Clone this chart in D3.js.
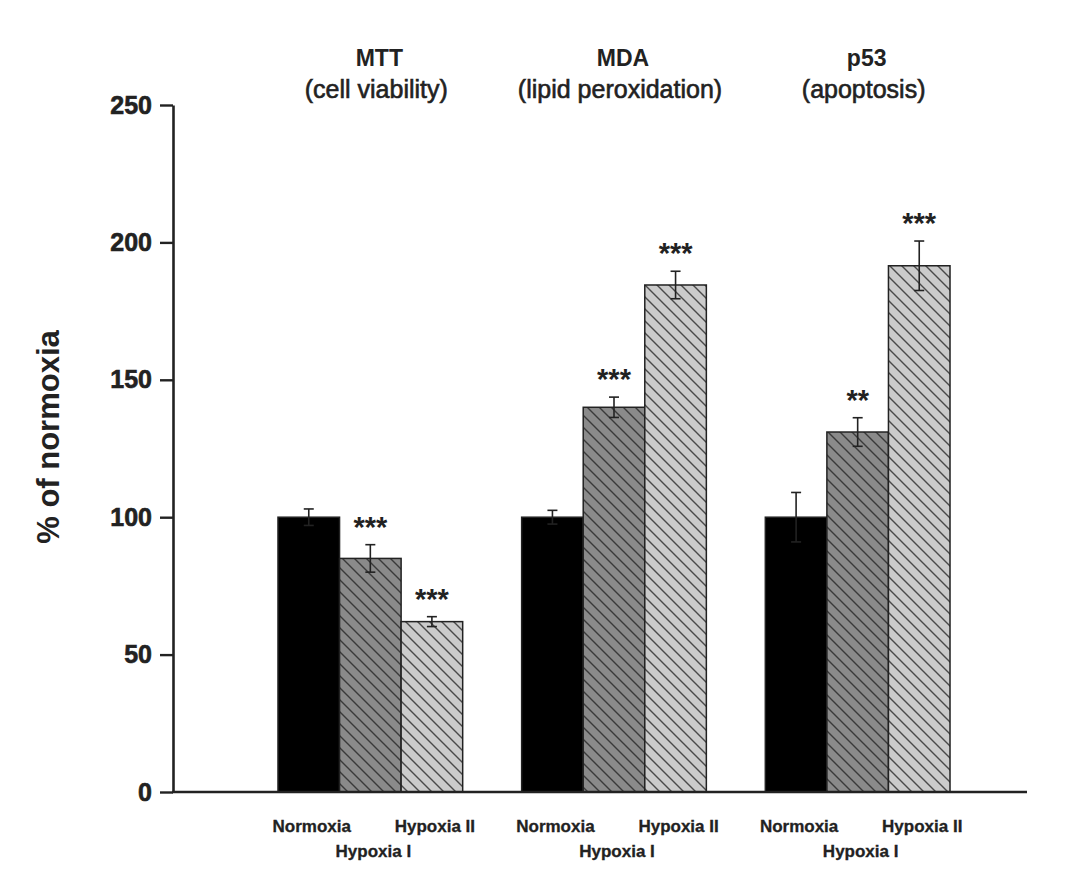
<!DOCTYPE html>
<html>
<head>
<meta charset="utf-8">
<script src="https://cdn.jsdelivr.net/npm/d3@7"></script>
<style>
  html, body { margin: 0; padding: 0; background: #fff; }
  svg { display: block; font-family: "Liberation Sans", Arial, sans-serif; }
</style>
</head>
<body>
<svg id="chart" width="1080" height="875"></svg>
<script>
// Assays (groups) and their subtitles
const groups = ["MTT", "MDA", "p53"];
const groupSubtitles = ["(cell viability)", "(lipid peroxidation)", "(apoptosis)"];
// Conditions within each group
const conditions = ["Normoxia", "Hypoxia I", "Hypoxia II"];
// Mean values (% of normoxia) and error (SEM) per assay
const mttValues = [100, 85, 62];
const mttErrors = [3, 5, 1.8];
const mdaValues = [100, 140, 184.5];
const mdaErrors = [2.5, 3.7, 5];
const p53Values = [100, 131, 191.5];
const p53Errors = [9, 5.2, 9];
// Significance markers
const mttStars = ["", "***", "***"];
const mdaStars = ["", "***", "***"];
const p53Stars = ["", "**", "***"];
// Y axis ticks
const yTicks = [0, 50, 100, 150, 200, 250];

const seriesValues = [mttValues, mdaValues, p53Values];
const seriesErrors = [mttErrors, mdaErrors, p53Errors];
const seriesStars = [mttStars, mdaStars, p53Stars];

const data = [];
groups.forEach((g, gi) => {
  conditions.forEach((c, ci) => {
    data.push({ group: g, cond: c, ci, value: seriesValues[gi][ci], err: seriesErrors[gi][ci], stars: seriesStars[gi][ci] });
  });
});

const svg = d3.select("#chart");

const y = d3.scaleLinear().domain([0, 250]).range([792, 105]);
const x0 = d3.scaleBand().domain(groups).range([248.5, 979.5]).paddingInner(0.242).paddingOuter(0.121);
const x1 = d3.scaleBand().domain(conditions).range([0, x0.bandwidth()]).padding(0);

const axisX = 173;
const axisRight = 1027;

// Hatch patterns for the hypoxia bars
const defs = svg.append("defs");
function hatch(id, bg, line) {
  const p = defs.append("pattern").attr("id", id).attr("patternUnits", "userSpaceOnUse")
    .attr("width", 12).attr("height", 12);
  p.append("rect").attr("width", 12).attr("height", 12).attr("fill", bg);
  p.append("path").attr("d", "M0,0 L12,12 M-6,6 L6,18 M6,-6 L18,6")
    .attr("stroke", line).attr("stroke-width", 1.4).attr("fill", "none");
}
hatch("hatchA", "#8a8a8a", "#3a3a3a");
hatch("hatchB", "#cbcbcb", "#4a4a4a");
const fills = { "Normoxia": "#000", "Hypoxia I": "url(#hatchA)", "Hypoxia II": "url(#hatchB)" };

// Bars
const gBars = svg.append("g");
gBars.selectAll("rect").data(data).join("rect")
  .attr("x", d => x0(d.group) + x1(d.cond))
  .attr("y", d => y(d.value))
  .attr("width", x1.bandwidth())
  .attr("height", d => y(0) - y(d.value))
  .attr("fill", d => fills[d.cond])
  .attr("stroke", "#222")
  .attr("stroke-width", 1.5);

// Error bars
const gErr = svg.append("g").attr("stroke", "#222").attr("stroke-width", 1.6);
data.forEach(d => {
  const cx = x0(d.group) + x1(d.cond) + x1.bandwidth() / 2;
  const top = y(d.value + d.err), bot = y(d.value - d.err);
  gErr.append("line").attr("x1", cx).attr("x2", cx).attr("y1", top).attr("y2", bot);
  gErr.append("line").attr("x1", cx - 5).attr("x2", cx + 5).attr("y1", top).attr("y2", top);
  gErr.append("line").attr("x1", cx - 5).attr("x2", cx + 5).attr("y1", bot).attr("y2", bot);
});

// Significance asterisks
svg.append("g").selectAll("text").data(data.filter(d => d.stars)).join("text")
  .attr("x", d => x0(d.group) + x1(d.cond) + x1.bandwidth() / 2)
  .attr("y", d => y(d.value + d.err) - 8)
  .attr("text-anchor", "middle")
  .attr("font-weight", "bold")
  .attr("font-size", 29)
  .attr("fill", "#222")
  .text(d => d.stars);

// Y axis
const yAxis = svg.append("g").attr("transform", `translate(${axisX},0)`)
  .call(d3.axisLeft(y).tickValues(yTicks).tickSize(13).tickSizeOuter(0).tickPadding(8));
yAxis.select(".domain").attr("stroke", "#222").attr("stroke-width", 2.6);
yAxis.selectAll(".tick line").attr("stroke", "#222").attr("stroke-width", 2.4);
yAxis.selectAll(".tick text")
  .attr("font-family", "Liberation Sans, Arial, sans-serif")
  .attr("font-size", 25).attr("font-weight", "bold").attr("fill", "#222")
  .attr("stroke", "#222").attr("stroke-width", 0.6);

// X baseline
svg.append("line").attr("x1", axisX - 1).attr("x2", axisRight).attr("y1", y(0)).attr("y2", y(0))
  .attr("stroke", "#222").attr("stroke-width", 2.6);

// Y axis title
svg.append("text")
  .attr("transform", "translate(59,437) rotate(-90)")
  .attr("text-anchor", "middle")
  .attr("font-weight", "bold").attr("font-size", 31).attr("fill", "#222")
  .text("% of normoxia");

// Group titles
const titles = svg.append("g").attr("fill", "#222");
groups.forEach((g, gi) => {
  const cx = x0(g) + x0.bandwidth() / 2 + 6;
  titles.append("text").attr("x", cx + 3).attr("y", 66).attr("text-anchor", "middle")
    .attr("font-weight", "bold").attr("font-size", 23).text(g);
  titles.append("text").attr("x", cx).attr("y", 98).attr("text-anchor", "middle")
    .attr("font-size", 25).attr("stroke", "#222").attr("stroke-width", 0.6).text(groupSubtitles[gi]);
});

// Condition labels under each group (staggered)
const xl = svg.append("g").attr("fill", "#222").attr("font-weight", "bold").attr("font-size", 17)
  .attr("stroke", "#222").attr("stroke-width", 0.3);
groups.forEach(g => {
  conditions.forEach((c, ci) => {
    xl.append("text")
      .attr("x", x0(g) + x1(c) + x1.bandwidth() / 2 + 3)
      .attr("y", ci === 1 ? 857 : 832)
      .attr("text-anchor", "middle")
      .text(c);
  });
});
</script>
</body>
</html>
